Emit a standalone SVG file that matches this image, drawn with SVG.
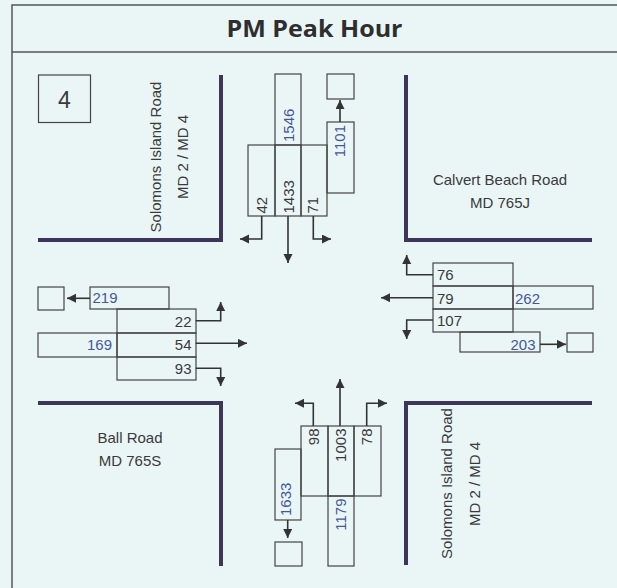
<svg xmlns="http://www.w3.org/2000/svg" width="617" height="588" viewBox="0 0 617 588">
<style>
.bg{fill:#eaf6f6}
.frame{fill:none;stroke:#555;stroke-width:1.5}
.road{fill:none;stroke:#3d3658;stroke-width:4}
.box{fill:none;stroke:#444;stroke-width:1.2}
.arr{fill:none;stroke:#333;stroke-width:1.6;marker-end:url(#ah)}
.n{font-family:"Liberation Sans",Arial,sans-serif;font-size:15px;fill:#3a3a3a}
.b{fill:#47569a}
.lbl{font-family:"Liberation Sans",Arial,sans-serif;font-size:15px;fill:#3a3a3a;text-anchor:middle}
.title{font-family:"Open Sans","Liberation Sans",sans-serif;font-size:24px;font-weight:bold;fill:#2e2e2e;text-anchor:middle}
</style>
<defs>
<marker id="ah" markerUnits="userSpaceOnUse" markerWidth="10" markerHeight="10" refX="9" refY="4.5" orient="auto">
<path d="M0,0 L9,4.5 L0,9 z" fill="#333"/>
</marker>
</defs>
<rect class="bg" x="0" y="0" width="617" height="588"/>
<g id="frame">
<path class="frame" d="M617,5 H12 V588 M12,52 H617"/>
<text class="title" x="314.5" y="37" textLength="176" lengthAdjust="spacingAndGlyphs">PM Peak Hour</text>
</g>
<g id="intersection-number">
<rect class="box" x="38.5" y="75" width="52" height="47.5"/>
<text x="64.5" y="108" font-family="Liberation Sans,Arial,sans-serif" font-size="23" fill="#3a3a3a" text-anchor="middle">4</text>
</g>
<g id="roads">
<path class="road" d="M38,240 H221 V75"/>
<path class="road" d="M406,75 V240 H592"/>
<path class="road" d="M38,403 H221 V566"/>
<path class="road" d="M592,403 H406 V565"/>
</g>
<g id="road-labels">
<text class="lbl" transform="translate(161,157) rotate(-90)">Solomons Island Road</text>
<text class="lbl" transform="translate(187.5,157) rotate(-90)">MD 2 / MD 4</text>
<text class="lbl" x="500" y="185">Calvert Beach Road</text>
<text class="lbl" x="500" y="208">MD 765J</text>
<text class="lbl" x="130" y="443">Ball Road</text>
<text class="lbl" x="130" y="466">MD 765S</text>
<text class="lbl" transform="translate(452,483.5) rotate(-90)">Solomons Island Road</text>
<text class="lbl" transform="translate(479.5,484) rotate(-90)">MD 2 / MD 4</text>
</g>
<g id="north-approach">
<rect class="box" x="275" y="74" width="26" height="71"/>
<rect class="box" x="248" y="145" width="27" height="71"/>
<rect class="box" x="275" y="145" width="26" height="71"/>
<rect class="box" x="301" y="145" width="26" height="71"/>
<rect class="box" x="327" y="122" width="27" height="71"/>
<rect class="box" x="327" y="74" width="27" height="25"/>
<text class="n b" transform="translate(293.5,142) rotate(-90)">1546</text>
<text class="n" transform="translate(266.5,213.5) rotate(-90)">42</text>
<text class="n" transform="translate(293.5,213.5) rotate(-90)">1433</text>
<text class="n" transform="translate(318,213.5) rotate(-90)">71</text>
<text class="n b" transform="translate(344.5,125) rotate(-90)" text-anchor="end">1101</text>
</g>
<g id="east-approach">
<rect class="box" x="433" y="263" width="80" height="23"/>
<rect class="box" x="433" y="286" width="80" height="23"/>
<rect class="box" x="433" y="309" width="80" height="23"/>
<rect class="box" x="513" y="286" width="80" height="23"/>
<rect class="box" x="460" y="332" width="80" height="20"/>
<rect class="box" x="567" y="333" width="26" height="19"/>
<text class="n" x="437" y="280">76</text>
<text class="n" x="437" y="304">79</text>
<text class="n" x="437" y="326">107</text>
<text class="n b" x="515" y="304">262</text>
<text class="n b" x="535.5" y="350" text-anchor="end">203</text>
</g>
<g id="west-approach">
<rect class="box" x="38" y="287" width="26" height="23"/>
<rect class="box" x="90" y="287" width="79" height="22"/>
<rect class="box" x="117" y="309" width="79" height="24"/>
<rect class="box" x="117" y="333" width="79" height="24"/>
<rect class="box" x="38" y="333" width="79" height="24"/>
<rect class="box" x="117" y="357" width="79" height="23"/>
<text class="n b" x="92.5" y="303">219</text>
<text class="n" x="191.5" y="326.5" text-anchor="end">22</text>
<text class="n b" x="112" y="350" text-anchor="end">169</text>
<text class="n" x="191.5" y="350" text-anchor="end">54</text>
<text class="n" x="191.5" y="374" text-anchor="end">93</text>
</g>
<g id="south-approach">
<rect class="box" x="301" y="426" width="27" height="70"/>
<rect class="box" x="328" y="426" width="26" height="70"/>
<rect class="box" x="354" y="426" width="27" height="70"/>
<rect class="box" x="275" y="449" width="26" height="71"/>
<rect class="box" x="328" y="496" width="26" height="70"/>
<rect class="box" x="275" y="542" width="27" height="24"/>
<text class="n" transform="translate(318.5,428.5) rotate(-90)" text-anchor="end">98</text>
<text class="n" transform="translate(345.5,428.5) rotate(-90)" text-anchor="end">1003</text>
<text class="n" transform="translate(372,428.5) rotate(-90)" text-anchor="end">78</text>
<text class="n b" transform="translate(291,516) rotate(-90)">1633</text>
<text class="n b" transform="translate(345.5,498.5) rotate(-90)" text-anchor="end">1179</text>
</g>
<g id="connectors">
<path class="arr" d="M340,122 V100"/>
<path class="arr" d="M261.7,216 V239 H240"/>
<path class="arr" d="M288,216 V263"/>
<path class="arr" d="M313.3,216 V239 H331"/>
<path class="arr" d="M433,274.7 H406.7 V255"/>
<path class="arr" d="M433,297.7 H381"/>
<path class="arr" d="M433,320 H406.7 V339"/>
<path class="arr" d="M540,344.3 H566"/>
<path class="arr" d="M90,298.3 H67"/>
<path class="arr" d="M195.7,320.7 H220.7 V302"/>
<path class="arr" d="M195.7,343.3 H247"/>
<path class="arr" d="M195.7,368.3 H220.7 V386"/>
<path class="arr" d="M287.7,520 V538"/>
<path class="arr" d="M313.3,426 V403.3 H295"/>
<path class="arr" d="M340,426 V379"/>
<path class="arr" d="M366.7,426 V403.3 H387"/>
</g>
</svg>
